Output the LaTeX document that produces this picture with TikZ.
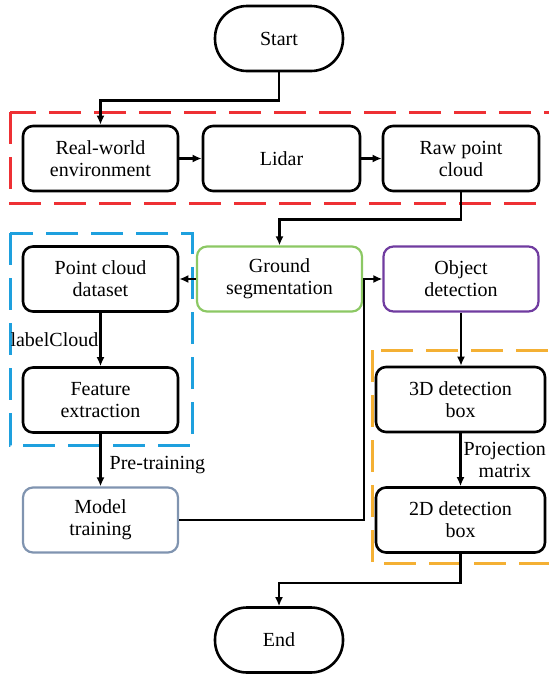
\documentclass[tikz,border=0pt]{standalone}
\usepackage{fontspec}
\setmainfont{Liberation Serif}
\newfontfamily\diagfont{Liberation Serif}
\usetikzlibrary{arrows.meta}
\definecolor{grpred}{RGB}{238,48,52}
\definecolor{grpblue}{RGB}{30,160,222}
\definecolor{grporange}{RGB}{244,176,52}
\definecolor{segreen}{RGB}{140,200,100}
\definecolor{detpurple}{RGB}{112,60,160}
\definecolor{trainblue}{RGB}{128,148,176}
\begin{document}
\begin{tikzpicture}[x=1pt,y=-1pt,
	font=\diagfont\fontsize{20}{22}\selectfont,
	box/.style={draw,line width=2.6pt,rounded corners=10pt,minimum width=155pt,minimum height=65pt,align=center,inner sep=0pt},
	term/.style={draw,line width=2.6pt,rounded corners=32pt,minimum width=128pt,minimum height=65pt},
	link/.style={line width=2.4pt,-{Latex[length=9pt,width=8pt]}},
	group/.style={line width=3pt,dash pattern=on 32pt off 13pt}]
	\useasboundingbox (0,0) rectangle (549,675);
	\draw[group,grpred] (10,112) rectangle (562,203);
	\draw[group,grpblue] (10,233) rectangle (192,445);
	\draw[group,grporange] (372,350) rectangle (562,563);
	\node[term] (start) at (279,38.5) {Start};
	\node[box] (real) at (100.5,158.5) {Real-world\\environment};
	\node[box,minimum width=157pt] (lidar) at (281.5,158.5) {Lidar};
	\node[box,minimum width=156pt] (raw) at (461,158.5) {Raw point\\cloud};
	\node[box] (dataset) at (100.5,279) {Point cloud\\dataset};
	\node[box,draw=segreen,line width=2.2pt,minimum width=165pt] (ground) at (279.5,279) {Ground\\segmentation};
	\node[box,draw=detpurple,line width=2.2pt] (object) at (461,279) {Object\\detection};
	\node[box] (feature) at (100.5,400) {Feature\\extraction};
	\node[box,minimum width=169pt] (box3d) at (460.5,399.5) {3D detection\\box};
	\node[box,draw=trainblue,line width=2.2pt] (model) at (100.5,520) {Model\\training};
	\node[box,minimum width=169pt] (box2d) at (460.5,520) {2D detection\\box};
	\node[term] (end) at (279,640) {End};
	\coordinate (join) at (364,279);
	\draw[link] (start.south) -- ++(0,28) -| (real.north);
	\draw[link] (real) -- (lidar);
	\draw[link] (lidar) -- (raw);
	\draw[link] (raw.south) -- ++(0,27) -| (ground.north);
	\draw[link] (ground) -- (dataset);
	\draw[link] (ground) -- (object);
	\draw[link] (dataset) -- node[left,inner sep=1pt] {labelCloud} (feature);
	\draw[link] (feature) -- node[right,pos=0.6,inner sep=8pt] {Pre-training} (model);
	\draw[link] (object.south) -- (object.south |- box3d.north);
	\draw[link] (box3d) -- node[right,align=center,inner sep=2pt] {Projection\\matrix} (box2d);
	\draw[link] (box2d.south) -- ++(0,29) -| (end.north);
	\draw[line width=2.4pt] (model) -| (join);
\end{tikzpicture}
\end{document}
